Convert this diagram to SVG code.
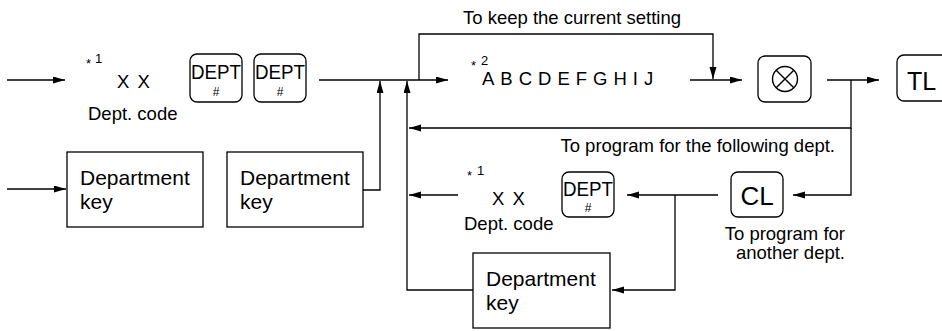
<svg xmlns="http://www.w3.org/2000/svg" width="942" height="331" viewBox="0 0 942 331">
<defs>
<marker id="ah" markerUnits="userSpaceOnUse" markerWidth="13" markerHeight="8" refX="12" refY="3.5" orient="auto">
<path d="M0,0 L12,3.5 L0,7 z" fill="#000"/>
</marker>
<style>
text{font-family:"Liberation Sans",Arial,Helvetica,sans-serif;fill:#000}
.lbl{font-size:18.5px}
.dk{font-size:21px}
.sup{font-size:13px}
.key{fill:#fff;stroke:#000;stroke-width:1.3}
.box{fill:#fff;stroke:#000;stroke-width:1.3}
.c2{fill:none;stroke:#000;stroke-width:1.3;marker-end:url(#ah)}
.dept{font-size:21px;text-anchor:middle}
.hash{font-size:12px;text-anchor:middle}
.big{font-size:26px}
.tl{font-size:25px}
</style>
</defs>
<rect width="942" height="331" fill="#fff"/>

<g id="connectors">
<path class="c2" d="M7,80 H65"/>
<path class="c2" d="M319,80 H448"/>
<path class="c2" d="M419,80 V34 H713 V79"/>
<path class="c2" d="M690,80 H742"/>
<path class="c2" d="M827,80 H879"/>
<path class="c2" d="M851,80 V128 H409"/>
<path class="c2" d="M851,128 V195 H793"/>
<path class="c2" d="M718,195 H627"/>
<path class="c2" d="M675,195 V290 H612"/>
<path class="c2" d="M473,290 H407 V81"/>
<path class="c2" d="M458,195 H409"/>
<path class="c2" d="M7,189 H66"/>
<path class="c2" d="M363,190 H380 V81"/>
</g>

<g id="label-keep">
<text class="lbl" x="463" y="24">To keep the current setting</text>
</g>

<g id="dept-code-top">
<text class="sup" x="86" y="68">*</text>
<text class="sup" x="95" y="63">1</text>
<text class="lbl" x="117" y="88" letter-spacing="1.5">X X</text>
<text class="lbl" x="88" y="120">Dept. code</text>
</g>

<g id="dept-key-1">
<rect class="key" x="190" y="54" width="52" height="48" rx="7"/>
<text class="dept" x="216" y="79" textLength="50" lengthAdjust="spacingAndGlyphs">DEPT</text>
<text class="hash" x="216" y="96">#</text>
</g>
<g id="dept-key-2">
<rect class="key" x="254" y="54" width="52" height="48" rx="7"/>
<text class="dept" x="280" y="79" textLength="50" lengthAdjust="spacingAndGlyphs">DEPT</text>
<text class="hash" x="280" y="96">#</text>
</g>

<g id="name-text">
<text class="sup" x="471" y="70">*</text>
<text class="sup" x="481" y="65">2</text>
<text class="lbl" x="482" y="85" letter-spacing="6">ABCDEFGHIJ</text>
</g>

<g id="key-x">
<rect class="key" x="758" y="56" width="53" height="46" rx="7"/>
<circle cx="785" cy="79" r="12.5" fill="none" stroke="#000" stroke-width="1.4"/>
<path d="M776.2,70.2 L793.8,87.8 M793.8,70.2 L776.2,87.8" stroke="#000" stroke-width="1.4"/>
</g>

<g id="key-tl">
<rect class="key" x="897" y="55" width="60" height="46" rx="7"/>
<text class="tl" x="907" y="90">TL</text>
</g>

<g id="label-following">
<text class="lbl" x="835" y="152" text-anchor="end">To program for the following dept.</text>
</g>

<g id="key-cl">
<rect class="key" x="731" y="172" width="52" height="45" rx="7"/>
<text class="big" x="757" y="205" text-anchor="middle">CL</text>
<text class="lbl" x="845" y="240" text-anchor="end">To program for</text>
<text class="lbl" x="845" y="259" text-anchor="end">another dept.</text>
</g>

<g id="dept-key-3">
<rect class="key" x="562" y="172" width="52" height="45" rx="7"/>
<text class="dept" x="588" y="196" textLength="50" lengthAdjust="spacingAndGlyphs">DEPT</text>
<text class="hash" x="588" y="212">#</text>
</g>

<g id="dept-code-bottom">
<text class="sup" x="467" y="180">*</text>
<text class="sup" x="477" y="175">1</text>
<text class="lbl" x="492" y="205" letter-spacing="1.5">X X</text>
<text class="lbl" x="464" y="230">Dept. code</text>
</g>

<g id="department-key-1">
<rect class="box" x="67" y="152" width="136" height="75"/>
<text class="dk" x="80" y="185">Department</text>
<text class="dk" x="80" y="209">key</text>
</g>
<g id="department-key-2">
<rect class="box" x="227" y="152" width="136" height="75"/>
<text class="dk" x="240" y="185">Department</text>
<text class="dk" x="240" y="209">key</text>
</g>
<g id="department-key-3">
<rect class="box" x="473" y="253" width="137" height="75"/>
<text class="dk" x="486" y="286">Department</text>
<text class="dk" x="486" y="310">key</text>
</g>
</svg>
